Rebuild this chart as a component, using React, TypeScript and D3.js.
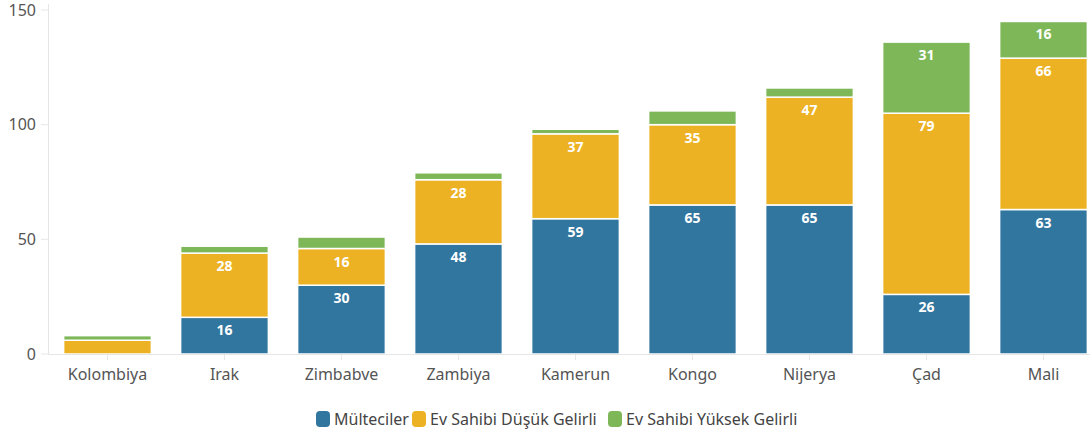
import React from "react";
import * as d3 from "d3";

const categories = ["Kolombiya", "Irak", "Zimbabve", "Zambiya", "Kamerun", "Kongo", "Nijerya", "Çad", "Mali"];
const refugees = [0, 16, 30, 48, 59, 65, 65, 26, 63];
const hostLow = [6, 28, 16, 28, 37, 35, 47, 79, 66];
const hostHigh = [2, 3, 5, 3, 2, 6, 4, 31, 16];
const seriesNames = ["Mülteciler", "Ev Sahibi Düşük Gelirli", "Ev Sahibi Yüksek Gelirli"];
const seriesColors = ["#31769e", "#ecb223", "#7db758"];
const yTicks = [0, 50, 100, 150];

const W = 1090, H = 436;
const FONT = "'Noto Sans', 'Open Sans', sans-serif";

export default function App() {
  const x = d3.scaleBand<string>().domain(categories).range([49, 1102]).paddingInner(0.25).paddingOuter(0.125);
  const y = d3.scaleLinear().domain([0, 150]).range([354, 10]);
  const seriesVals = [refugees, hostLow, hostHigh];
  const rows = categories.map((c, i) => ({ cat: c, s0: refugees[i], s1: hostLow[i], s2: hostHigh[i] }));
  const stack = d3.stack<any>().keys(["s0", "s1", "s2"])(rows);

  const legendX = [316, 412, 608];

  return (
    <svg width={W} height={H} style={{ position: "absolute", left: 0, top: 0, fontFamily: FONT }}>
      <rect width={W} height={H} fill="#fff" />
      <line x1={48.5} x2={48.5} y1={4} y2={354} stroke="#e6e6e6" />
      {yTicks.map(t => (
        <g key={t}>
          <line x1={41} x2={48} y1={y(t)} y2={y(t)} stroke="#e6e6e6" />
          <text x={36} y={y(t)} dy="0.35em" textAnchor="end" fontSize={16} fill="#555">{t}</text>
        </g>
      ))}
      {stack.map((layer, si) => (
        <g key={si}>
          {layer.map((d, i) => {
            const v = seriesVals[si][i];
            if (v <= 0) return null;
            const top = y(d[1]);
            const bot = y(d[0]);
            const x0 = x(categories[i])!;
            return (
              <g key={i}>
                <rect x={x0} y={top} width={x.bandwidth()} height={bot - top} fill={seriesColors[si]} stroke="#fff" strokeWidth={1.5} />
                {v >= 10 && (
                  <text x={x0 + x.bandwidth() / 2} y={top + 18} textAnchor="middle" fontSize={14} fontWeight="bold" fill="#fff">{v}</text>
                )}
              </g>
            );
          })}
        </g>
      ))}
      <line x1={48} x2={W} y1={354.5} y2={354.5} stroke="#e6e6e6" />
      {categories.map(c => (
        <g key={c}>
          <line x1={x(c)! + x.bandwidth() / 2} x2={x(c)! + x.bandwidth() / 2} y1={355} y2={360} stroke="#e6e6e6" />
          <text x={x(c)! + x.bandwidth() / 2} y={380} textAnchor="middle" fontSize={16} fill="#555">{c}</text>
        </g>
      ))}
      {seriesNames.map((n, i) => (
        <g key={n}>
          <rect x={legendX[i]} y={411} width={14} height={16} rx={4} fill={seriesColors[i]} />
          <text x={legendX[i] + 18} y={419} dy="0.35em" fontSize={16} fill="#444">{n}</text>
        </g>
      ))}
    </svg>
  );
}
